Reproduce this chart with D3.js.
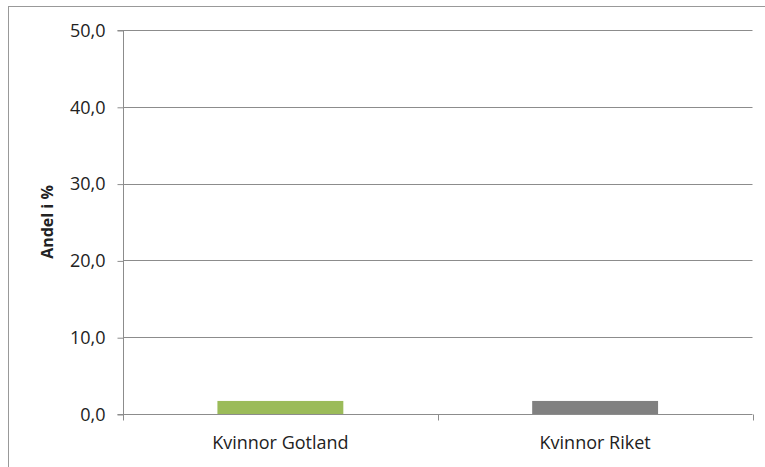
<!DOCTYPE html>
<html><head><meta charset="utf-8">
<script src="https://cdn.jsdelivr.net/npm/d3@7"></script>
<style>body{margin:0;background:#fff}svg{display:block}</style>
</head><body>
<svg id="c" width="765" height="467"></svg>
<script>
const categories = ["Kvinnor Gotland", "Kvinnor Riket"];
const values = [1.7, 1.7];
const colors = ["#9bbb59", "#808080"];
const yTicks = [0, 10, 20, 30, 40, 50];
const yTitle = "Andel i %";

const svg = d3.select("#c");
const font = "'Open Sans', 'Noto Sans', sans-serif";
// outer frame
svg.append("rect").attr("x", 8.5).attr("y", 6.5).attr("width", 780).attr("height", 480)
  .attr("fill", "none").attr("stroke", "#999").attr("stroke-width", 1);

const m = {l: 123, r: 752.5, t: 30, b: 414};
const x = d3.scaleBand().domain(categories).range([m.l, m.r]).paddingInner(0.6).paddingOuter(0.3);
const xOuter = d3.scaleBand().domain(categories).range([m.l, m.r]);
const y = d3.scaleLinear().domain([0, 50]).range([m.b, m.t]);
const fmt = d => d3.format(".1f")(d).replace(".", ",");

// gridlines
svg.append("g").selectAll("line").data(yTicks.filter(d => d > 0)).join("line")
  .attr("x1", m.l).attr("x2", m.r)
  .attr("y1", d => Math.round(y(d)) + 0.5).attr("y2", d => Math.round(y(d)) + 0.5)
  .attr("stroke", "#8c8c8c").attr("stroke-width", 1);

// y axis
const ya = svg.append("g").attr("transform", `translate(${m.l + 0.5},0.5)`)
  .call(d3.axisLeft(y).tickValues(yTicks).tickFormat(fmt).tickSize(6).tickPadding(12));
ya.select(".domain").attr("stroke", "#8c8c8c").attr("d", `M-6,${y(50)}H0V${y(0)}H-6`);
ya.selectAll(".tick line").attr("stroke", "#8c8c8c");
ya.selectAll(".tick text").attr("font-family", font).attr("font-size", 18).attr("fill", "#222");

// bars
svg.append("g").selectAll("rect").data(categories).join("rect")
  .attr("x", d => x(d)).attr("width", x.bandwidth())
  .attr("y", (d, i) => y(values[i])).attr("height", (d, i) => y(0) - y(values[i]))
  .attr("fill", (d, i) => colors[i]);

// x axis
const xa = svg.append("g").attr("transform", `translate(0,${Math.round(m.b) + 0.5})`);
xa.append("line").attr("x1", m.l).attr("x2", m.r).attr("stroke", "#8c8c8c");
const xTickPos = [m.l, ...categories.map(c => xOuter(c) + xOuter.bandwidth())];
xa.selectAll("line.t").data(xTickPos).join("line").attr("class", "t")
  .attr("x1", d => Math.round(d) + 0.5).attr("x2", d => Math.round(d) + 0.5).attr("y1", 0).attr("y2", 6)
  .attr("stroke", "#8c8c8c");
xa.selectAll("text").data(categories).join("text")
  .attr("x", d => xOuter(d) + xOuter.bandwidth() / 2).attr("y", 34.5)
  .attr("text-anchor", "middle").attr("font-family", font).attr("font-size", 18).attr("fill", "#222")
  .text(d => d);

// y title
svg.append("text").attr("transform", "translate(53,222) rotate(-90)")
  .attr("text-anchor", "middle").attr("font-family", font).attr("font-size", 16)
  .attr("font-weight", "bold").attr("fill", "#222").text(yTitle);
</script>
</body></html>
